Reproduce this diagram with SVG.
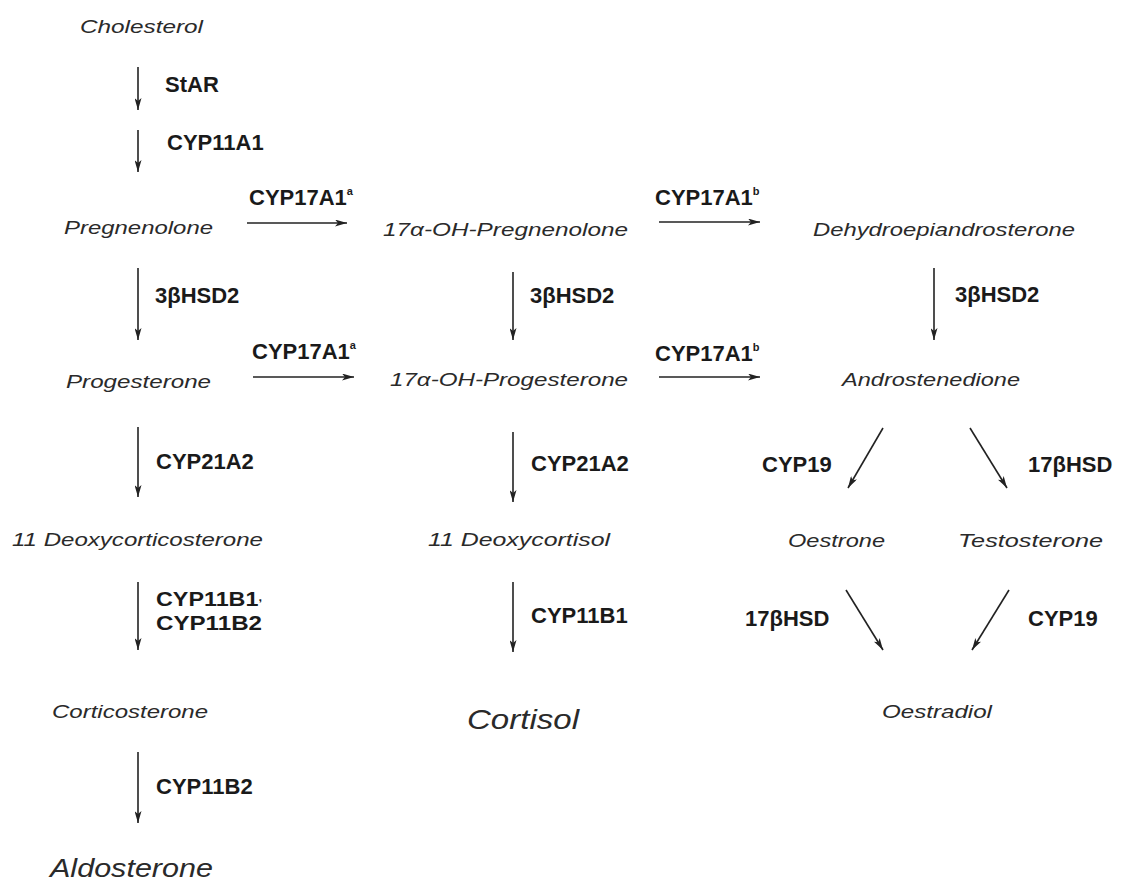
<svg xmlns="http://www.w3.org/2000/svg" width="1121" height="884" viewBox="0 0 1121 884">
<style>
  .n { font-family: "Liberation Sans", Arial, sans-serif; font-style: italic; font-size: 19px; fill: #2a2a2a; }
  .big { font-size: 28px; }
  .e { font-family: "Liberation Sans", Arial, sans-serif; font-weight: bold; font-size: 22px; fill: #1a1a1a; }
  .e2 { font-size: 20px; }
  .sup { font-size: 11px; }
  .c line { stroke: #222; stroke-width: 1.6; marker-end: url(#ah); }
</style>
<defs>
  <marker id="ah" markerUnits="userSpaceOnUse" markerWidth="13" markerHeight="7" refX="12" refY="3.5" orient="auto">
    <path d="M0,0 L12,3.5 L0,7 L3,3.5 z" fill="#222"/>
  </marker>
</defs>
<rect width="1121" height="884" fill="#fff"/>

<g id="cholesterol"><text class="n" x="80" y="33" textLength="123" lengthAdjust="spacingAndGlyphs">Cholesterol</text></g>
<g id="pregnenolone"><text class="n" x="64" y="234" textLength="149" lengthAdjust="spacingAndGlyphs">Pregnenolone</text></g>
<g id="oh-pregnenolone"><text class="n" x="383" y="236" textLength="245" lengthAdjust="spacingAndGlyphs">17α-OH-Pregnenolone</text></g>
<g id="dhea"><text class="n" x="813" y="236" textLength="262" lengthAdjust="spacingAndGlyphs">Dehydroepiandrosterone</text></g>
<g id="progesterone"><text class="n" x="66" y="388" textLength="145" lengthAdjust="spacingAndGlyphs">Progesterone</text></g>
<g id="oh-progesterone"><text class="n" x="390" y="386" textLength="238" lengthAdjust="spacingAndGlyphs">17α-OH-Progesterone</text></g>
<g id="androstenedione"><text class="n" x="842" y="386" textLength="178" lengthAdjust="spacingAndGlyphs">Androstenedione</text></g>
<g id="deoxycorticosterone"><text class="n" x="12" y="546" textLength="251" lengthAdjust="spacingAndGlyphs">11 Deoxycorticosterone</text></g>
<g id="deoxycortisol"><text class="n" x="428" y="546" textLength="182" lengthAdjust="spacingAndGlyphs">11 Deoxycortisol</text></g>
<g id="oestrone"><text class="n" x="788" y="547" textLength="97" lengthAdjust="spacingAndGlyphs">Oestrone</text></g>
<g id="testosterone"><text class="n" x="958" y="547" textLength="145" lengthAdjust="spacingAndGlyphs">Testosterone</text></g>
<g id="corticosterone"><text class="n" x="52" y="718" textLength="156" lengthAdjust="spacingAndGlyphs">Corticosterone</text></g>
<g id="cortisol"><text class="n big" x="467" y="729" textLength="112" lengthAdjust="spacingAndGlyphs">Cortisol</text></g>
<g id="oestradiol"><text class="n" x="882" y="718" textLength="110" lengthAdjust="spacingAndGlyphs">Oestradiol</text></g>
<g id="aldosterone"><text class="n big" x="50" y="877" style="font-size:25px" textLength="163" lengthAdjust="spacingAndGlyphs">Aldosterone</text></g>

<g id="connectors" class="c">
  <line x1="138" y1="67" x2="138" y2="110"/>
  <line x1="138" y1="130" x2="138" y2="172"/>
  <line x1="247" y1="223" x2="347" y2="223"/>
  <line x1="659" y1="222" x2="760" y2="222"/>
  <line x1="138" y1="268" x2="138" y2="340"/>
  <line x1="513" y1="272" x2="513" y2="340"/>
  <line x1="934" y1="268" x2="934" y2="340"/>
  <line x1="253" y1="377" x2="354" y2="377"/>
  <line x1="659" y1="377" x2="760" y2="377"/>
  <line x1="138" y1="427" x2="138" y2="497"/>
  <line x1="513" y1="432" x2="513" y2="502"/>
  <line x1="883" y1="428" x2="848" y2="488"/>
  <line x1="970" y1="428" x2="1007" y2="488"/>
  <line x1="138" y1="582" x2="138" y2="650"/>
  <line x1="513" y1="582" x2="513" y2="652"/>
  <line x1="846" y1="590" x2="883" y2="650"/>
  <line x1="1009" y1="590" x2="972" y2="650"/>
  <line x1="138" y1="752" x2="138" y2="823"/>
</g>

<g id="labels">
  <text class="e" x="165" y="92">StAR</text>
  <text class="e" x="167" y="150">CYP11A1</text>
  <text class="e" x="249" y="205">CYP17A1<tspan class="sup" dy="-10">a</tspan></text>
  <text class="e" x="655" y="205">CYP17A1<tspan class="sup" dy="-10">b</tspan></text>
  <text class="e" x="155" y="303">3βHSD2</text>
  <text class="e" x="530" y="303">3βHSD2</text>
  <text class="e" x="955" y="302">3βHSD2</text>
  <text class="e" x="252" y="359">CYP17A1<tspan class="sup" dy="-10">a</tspan></text>
  <text class="e" x="655" y="361">CYP17A1<tspan class="sup" dy="-10">b</tspan></text>
  <text class="e" x="156" y="469">CYP21A2</text>
  <text class="e" x="531" y="471">CYP21A2</text>
  <text class="e" x="762" y="472">CYP19</text>
  <text class="e" x="1028" y="472">17βHSD</text>
  <text class="e e2" x="156" y="606" textLength="106" lengthAdjust="spacingAndGlyphs">CYP11B1<tspan class="sup" dy="-5">,</tspan></text>
  <text class="e e2" x="156" y="630" textLength="106" lengthAdjust="spacingAndGlyphs">CYP11B2</text>
  <text class="e" x="531" y="623">CYP11B1</text>
  <text class="e" x="745" y="626">17βHSD</text>
  <text class="e" x="1028" y="626">CYP19</text>
  <text class="e" x="156" y="794">CYP11B2</text>
</g>
</svg>
